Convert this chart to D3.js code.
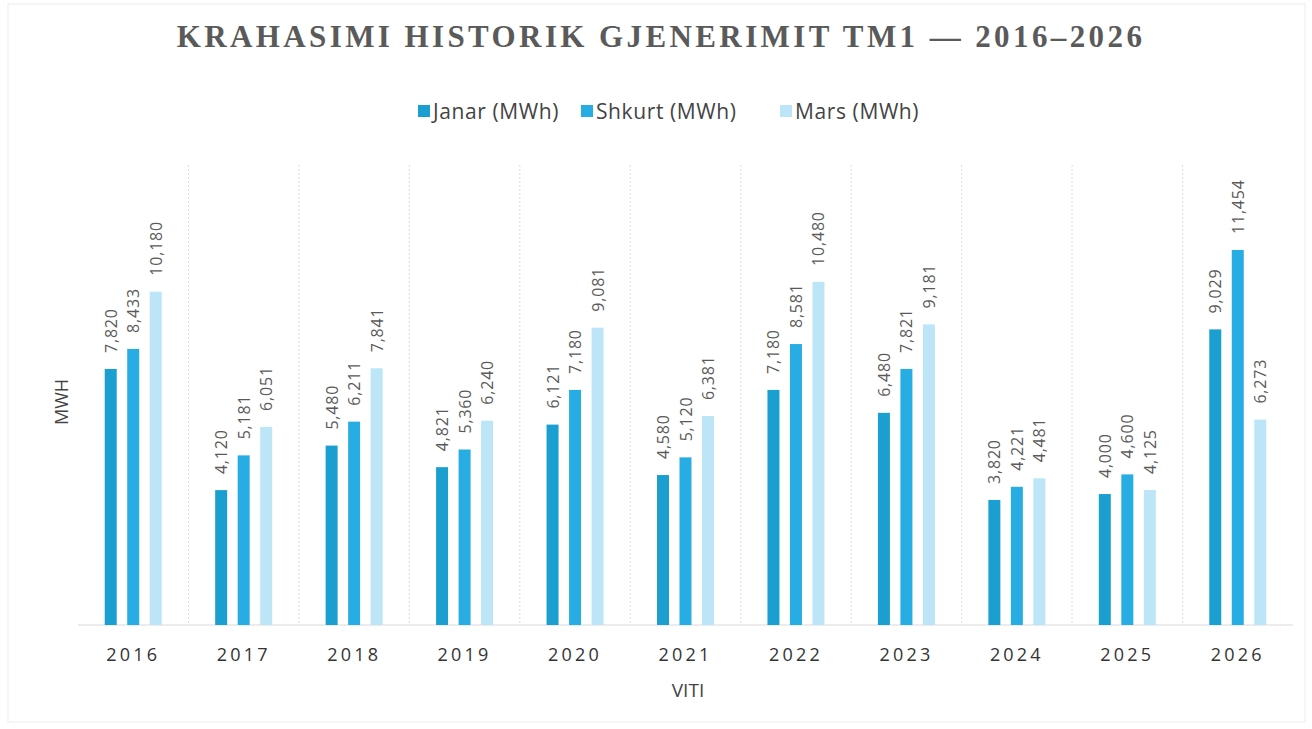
<!DOCTYPE html>
<html>
<head>
<meta charset="utf-8">
<script src="https://cdn.jsdelivr.net/npm/d3@7"></script>
<style>
  body { margin: 0; background: #fff; }
  svg { display: block; }
</style>
</head>
<body>
<svg id="chart" width="1312" height="729"></svg>
<script>
var years = ["2016","2017","2018","2019","2020","2021","2022","2023","2024","2025","2026"];
var seriesNames = ["Janar (MWh)", "Shkurt (MWh)", "Mars (MWh)"];
var janar  = [7820, 4120, 5480, 4821, 6121, 4580, 7180, 6480, 3820, 4000, 9029];
var shkurt = [8433, 5181, 6211, 5360, 7180, 5120, 8581, 7821, 4221, 4600, 11454];
var mars   = [10180, 6051, 7841, 6240, 9081, 6381, 10480, 9181, 4481, 4125, 6273];
var colors = ["#1b9fd0", "#27ade3", "#bce5f7"];

var svg = d3.select("#chart");
var margins = {top: 165, right: 19, bottom: 104, left: 78};
var width = +svg.attr("width") - margins.left - margins.right,
    height = +svg.attr("height") - margins.top - margins.bottom;

// faint frame
svg.append("rect")
    .attr("x", 8).attr("y", 4).attr("width", 1297).attr("height", 718)
    .attr("fill", "none").attr("stroke", "#ececec").attr("stroke-width", 1);

var x = d3.scaleBand().domain(years).range([0, width]).padding(0);
var x1 = d3.scaleBand().domain([0, 1, 2]).range([-28.5, 28.5]).paddingInner(0.467).paddingOuter(0);
var y = d3.scaleLinear().domain([0, 14050]).range([height, 0]);

var g = svg.append("g")
    .attr("transform", "translate(" + margins.left + "," + margins.top + ")");

// vertical separators between categories
g.selectAll(".sep")
  .data(years.slice(1))
  .enter().append("line")
    .attr("class", "sep")
    .attr("x1", function(d) { return x(d); })
    .attr("x2", function(d) { return x(d); })
    .attr("y1", 0)
    .attr("y2", height)
    .attr("stroke", "#dcdcdc")
    .attr("stroke-dasharray", "2,2");

// baseline
g.append("line")
    .attr("x1", 0).attr("x2", width)
    .attr("y1", height).attr("y2", height)
    .attr("stroke", "#d9d9d9");

var rows = years.map(function(yr, i) {
  return {year: yr, values: [janar[i], shkurt[i], mars[i]]};
});

var groups = g.selectAll(".grp")
  .data(rows)
  .enter().append("g")
    .attr("class", "grp")
    .attr("transform", function(d) { return "translate(" + (x(d.year) + x.bandwidth() / 2) + ",0)"; });

groups.selectAll("rect")
  .data(function(d) { return d.values.map(function(v, k) { return {k: k, v: v}; }); })
  .enter().append("rect")
    .attr("x", function(d) { return x1(d.k); })
    .attr("y", function(d) { return y(d.v); })
    .attr("width", x1.bandwidth())
    .attr("height", function(d) { return height - y(d.v); })
    .attr("fill", function(d) { return colors[d.k]; });

var fmt = d3.format(",");
groups.selectAll(".lbl")
  .data(function(d) { return d.values.map(function(v, k) { return {k: k, v: v}; }); })
  .enter().append("text")
    .attr("class", "lbl")
    .attr("transform", function(d) {
      return "translate(" + (x1(d.k) + x1.bandwidth() / 2 + 6) + "," + (y(d.v) - 16) + ") rotate(-90)";
    })
    .style("font-family", "'Open Sans', sans-serif")
    .style("font-size", "16px")
    .style("fill", "#5a5a5a")
    .style("letter-spacing", "0.8px")
    .text(function(d) { return fmt(d.v); });

// x axis labels
var xAxis = g.append("g")
    .attr("transform", "translate(0," + height + ")")
    .call(d3.axisBottom(x).tickSize(0).tickPadding(0));
xAxis.select(".domain").remove();
xAxis.selectAll("text")
    .attr("y", 36)
    .attr("dy", 0)
    .style("font-family", "'Open Sans', sans-serif")
    .style("font-size", "18px")
    .style("letter-spacing", "3.2px")
    .style("fill", "#333");

// axis titles
svg.append("text")
    .attr("x", 688).attr("y", 697)
    .attr("text-anchor", "middle")
    .style("font-family", "'Open Sans', sans-serif")
    .style("font-size", "19px")
    .style("fill", "#444")
    .text("VITI");

svg.append("text")
    .attr("transform", "translate(68,402) rotate(-90)")
    .attr("text-anchor", "middle")
    .style("font-family", "'Open Sans', sans-serif")
    .style("font-size", "18px")
    .style("fill", "#444")
    .text("MWH");

// title
svg.append("text")
    .attr("x", 661).attr("y", 47)
    .attr("text-anchor", "middle")
    .style("font-family", "'Liberation Serif', 'DejaVu Serif', serif")
    .style("font-weight", "bold")
    .style("font-size", "31px")
    .style("letter-spacing", "3.4px")
    .style("fill", "#5a5a5a")
    .text("KRAHASIMI HISTORIK GJENERIMIT TM1 \u2014 2016\u20132026");

// legend
var legendX = [418, 581, 780];
var legend = svg.selectAll(".leg")
  .data(seriesNames)
  .enter().append("g")
    .attr("class", "leg")
    .attr("transform", function(d, i) { return "translate(" + legendX[i] + ",111)"; });
legend.append("rect")
    .attr("x", 0).attr("y", -6)
    .attr("width", 12).attr("height", 12)
    .attr("fill", function(d, i) { return colors[i]; });
legend.append("text")
    .attr("x", 15).attr("y", 8)
    .style("font-family", "'Open Sans', sans-serif")
    .style("font-size", "21px")
    .style("letter-spacing", "0.6px")
    .style("fill", "#444")
    .text(function(d) { return d; });
</script>
</body>
</html>
